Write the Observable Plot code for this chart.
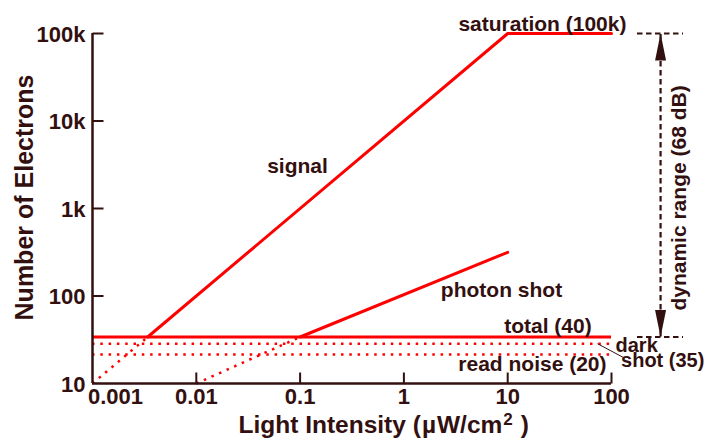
<!DOCTYPE html>
<html><head><meta charset="utf-8">
<script src="https://cdn.jsdelivr.net/npm/d3@7"></script>
<script src="https://cdn.jsdelivr.net/npm/@observablehq/plot@0.6"></script>
<style>body{margin:0;background:#fff} svg{display:block}</style>
</head><body><div id="chart"></div>
<script>
// ---- data ----
const xDomain = [0.001, 100];
const yDomain = [10, 100000];
const xTicks = [0.001, 0.01, 0.1, 1, 10, 100];
const xTickLabels = ["0.001", "0.01", "0.1", "1", "10", "100"];
const yTicks = [10, 100, 1000, 10000, 100000];
const yTickLabels = ["10", "100", "1k", "10k", "100k"];

const signalIntensity = [0.001, 0.0034, 10, 100];
const signalElectrons = [10, 34, 100000, 100000];
const photonIntensity = [0.01, 0.1, 10];
const photonElectrons = [10, 34, 316];
const noiseNames = ["total", "dark shot", "read noise"];
const noiseElectrons = [34, 28.5, 21.5];

// annotation labels (placed in data units)
const labelText = ["signal", "saturation (100k)", "photon shot", "total (40)", "read noise (20)"];
const labelX = [0.0944, 21.6, 8.71, 24.4, 17.3];
const labelY = [3076, 128500, 115.6, 44.8, 16.5];

// ---- style ----
const ink = "#331010";
const red = "#ff0000";
const font = "'Liberation Sans', Arial, Helvetica, sans-serif";
const dotted = "2.5,5.8";

const toPts = (xs, ys) => xs.map((x, i) => ({x, y: ys[i]}));
const signalPts = toPts(signalIntensity, signalElectrons);
const photonPts = toPts(photonIntensity, photonElectrons);
const noise = noiseNames.map((name, i) => ({name, y: noiseElectrons[i]}));
const labels = labelText.map((t, i) => ({t, x: labelX[i], y: labelY[i]}));

const lineShape = {draw(ctx, l) { ctx.moveTo(0, 0); ctx.lineTo(0, -l); }};
const headShape = {draw(ctx, l) { ctx.moveTo(0, 0); ctx.lineTo(-5.5, l); ctx.lineTo(5.5, l); ctx.closePath(); }};

const rangeX = 297;               // position of the dynamic-range arrow
const rangeEnds = [signalElectrons[signalElectrons.length - 1], noiseElectrons[0]];

const bold = {fontWeight: "bold", fill: ink};

const chart = Plot.plot({
  width: 713, height: 445,
  marginLeft: 92, marginRight: 102, marginTop: 33, marginBottom: 62,
  x: {type: "log", domain: xDomain, axis: null},
  y: {type: "log", domain: yDomain, axis: null},
  style: {fontFamily: font, background: "#fff", color: ink, overflow: "visible"},
  marks: [
    // noise floors
    Plot.ruleY(noise.slice(1), {y: "y", x1: () => xDomain[0], x2: () => xDomain[1] * 0.98, stroke: red, strokeWidth: 2.5, strokeDasharray: dotted, strokeLinecap: "butt"}),
    Plot.ruleY(noise.slice(0, 1), {y: "y", x1: () => xDomain[0], x2: () => xDomain[1], stroke: red, strokeWidth: 3}),
    // signal
    Plot.line(signalPts.slice(0, 2), {x: "x", y: "y", stroke: red, strokeWidth: 2.5, strokeDasharray: dotted, strokeLinecap: "butt"}),
    Plot.line(signalPts.slice(1), {x: "x", y: "y", stroke: red, strokeWidth: 3}),
    // photon shot
    Plot.line(photonPts.slice(0, 2), {x: "x", y: "y", stroke: red, strokeWidth: 2.5, strokeDasharray: dotted, strokeLinecap: "butt"}),
    Plot.line(photonPts.slice(1), {x: "x", y: "y", stroke: red, strokeWidth: 3}),
    // axes
    Plot.ruleX([xDomain[0]], {x: d => d, y1: () => yDomain[0], y2: () => yDomain[1], stroke: ink, strokeWidth: 2.5}),
    Plot.ruleY([yDomain[0]], {y: d => d, x1: () => xDomain[0], x2: () => xDomain[1], stroke: ink, strokeWidth: 2.5}),
    Plot.vector(xTicks.slice(1), {x: d => d, y: () => yDomain[0], length: 11, rotate: 0, anchor: "start", shape: lineShape, stroke: ink, strokeWidth: 2, strokeLinecap: "butt"}),
    Plot.vector(yTicks.slice(1), {x: () => xDomain[0], y: d => d, length: 11, rotate: 90, anchor: "start", shape: lineShape, stroke: ink, strokeWidth: 2, strokeLinecap: "butt"}),
    Plot.text(yTicks, {x: () => xDomain[0], y: d => d, text: (d, i) => yTickLabels[i], textAnchor: "end", dx: -7, dy: 1, fontSize: 22, ...bold}),
    Plot.text(xTicks.slice(1), {x: d => d, y: () => yDomain[0], text: (d, i) => xTickLabels[i + 1], lineAnchor: "top", dy: 5, fontSize: 22, ...bold}),
    Plot.text(xTicks.slice(0, 1), {x: d => d, y: () => yDomain[0], text: (d, i) => xTickLabels[i], lineAnchor: "top", dy: 5, dx: 23, fontSize: 22, ...bold}),
    // axis titles
    Plot.text(["Number of Electrons"], {frameAnchor: "left", text: d => d, textAnchor: "middle", lineAnchor: "middle", rotate: -90, dx: -68, dy: -11, fontSize: 25, ...bold}),
    Plot.text(["Light Intensity (\u00b5W/cm2 )"], {frameAnchor: "bottom-left", text: d => d, textAnchor: "start", lineAnchor: "middle", dx: 146, dy: 41.5, fontSize: 24.5, ...bold}),
    // series labels
    Plot.text(labels, {x: "x", y: "y", text: "t", fontSize: 21, ...bold}),
    Plot.text(["dark\n\u00a0shot (35)"], {x: () => 109.3, y: () => 30.4, text: d => d, textAnchor: "start", lineAnchor: "top", lineHeight: 0.74, fontSize: 20, ...bold}),
    Plot.link([0], {x1: () => 73.3, y1: () => noiseElectrons[1], x2: () => 130.5, y2: () => 19.8, stroke: ink, strokeWidth: 1}),
    // dynamic range
    Plot.ruleY(rangeEnds, {y: d => d, x1: () => 178, x2: () => 494, stroke: ink, strokeWidth: 2.2, strokeDasharray: "5.5,3.5"}),
    Plot.ruleX([rangeX], {x: d => d, y1: () => rangeEnds[1], y2: () => rangeEnds[0], stroke: ink, strokeWidth: 2.2, strokeDasharray: "5.5,3.5"}),
    Plot.vector(rangeEnds, {x: () => rangeX, y: d => d, rotate: (d, i) => i === 0 ? 0 : 180, length: 27, anchor: "start", shape: headShape, fill: ink, stroke: "none"}),
    Plot.text(["dynamic range (68 dB)"], {x: () => 452, y: () => 1319, text: d => d, rotate: -90, fontSize: 21, ...bold})
  ]
});
document.getElementById("chart").appendChild(chart);

// superscript for the unit in the x-axis title
d3.select(chart).selectAll("text")
  .filter(function () { return this.textContent.startsWith("Light Intensity"); })
  .each(function () {
    const t = d3.select(this);
    t.text(null);
    t.append("tspan").text("Light Intensity (");
    t.append("tspan").attr("dx", 1).text("\u00b5");
    t.append("tspan").attr("dx", 1).text("W/cm");
    t.append("tspan").attr("dx", 1).attr("dy", -8).attr("font-size", 17).text("2");
    t.append("tspan").attr("dx", 8).attr("dy", 8).text(")");
  });
</script>
</body></html>
